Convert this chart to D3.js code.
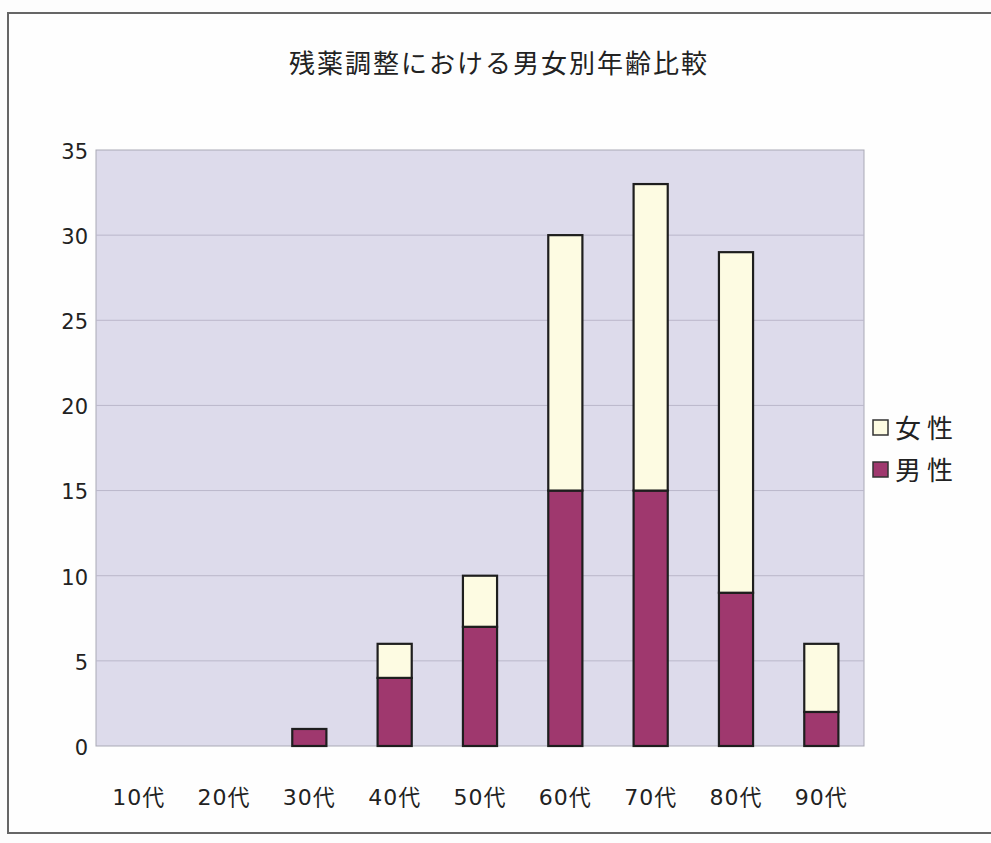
<!DOCTYPE html>
<html>
<head>
<meta charset="utf-8">
<script src="https://cdn.jsdelivr.net/npm/d3@7"></script>
<style>
  body { margin: 0; background: #fdfdfd; }
  text { font-family: "DejaVu Sans", "Noto Sans CJK JP", sans-serif; fill: #222; }
</style>
</head>
<body>
<svg id="chart" width="991" height="843"></svg>
<script>
// chart data
var categories = ["10代", "20代", "30代", "40代", "50代", "60代", "70代", "80代", "90代"];
var maleValues = [0, 0, 1, 4, 7, 15, 15, 9, 2];
var femaleValues = [0, 0, 0, 2, 3, 15, 18, 20, 4];
var yTicks = [0, 5, 10, 15, 20, 25, 30, 35];
var seriesNames = ["女性", "男性"];
var title = "残薬調整における男女別年齢比較";

(function (d3) {
    "use strict";

    var svg = d3.select("#chart"),
        plot = {left: 96, right: 864, top: 150, bottom: 746};

    // outer frame
    svg.append("rect")
        .attr("x", 8).attr("y", 13).attr("width", 1000).attr("height", 820)
        .attr("fill", "#fefefe").attr("stroke", "#666").attr("stroke-width", 2);

    svg.append("text")
        .attr("x", 289).attr("y", 73)
        .attr("textLength", 418).attr("lengthAdjust", "spacing")
        .style("font-size", "26px")
        .text(title);

    var x = d3.scaleBand().domain(categories).range([plot.left, plot.right]).paddingInner(0.6).paddingOuter(0.3);
    var y = d3.scaleLinear().domain([0, 35]).range([plot.bottom, plot.top]);

    svg.append("rect")
        .attr("x", plot.left).attr("y", plot.top)
        .attr("width", plot.right - plot.left).attr("height", plot.bottom - plot.top)
        .attr("fill", "#dddbeb").attr("stroke", "#a9a9b5");

    svg.append("g")
        .selectAll("line")
        .data(yTicks.slice(1, -1))
        .join("line")
        .attr("x1", plot.left).attr("x2", plot.right)
        .attr("y1", function (d) { return y(d); })
        .attr("y2", function (d) { return y(d); })
        .attr("stroke", "#bab7ca").attr("stroke-width", 1);

    var yAxis = svg.append("g")
        .attr("transform", "translate(" + (plot.left - 8) + ",0)")
        .call(d3.axisLeft(y).tickValues(yTicks).tickSize(0).tickPadding(0));
    yAxis.select(".domain").remove();
    yAxis.selectAll("text").style("font-size", "21px").attr("fill", "#222").attr("dy", "0.4em");

    var xAxis = svg.append("g")
        .attr("transform", "translate(0," + (plot.bottom + 43) + ")")
        .call(d3.axisBottom(x).tickSize(0).tickPadding(0));
    xAxis.select(".domain").remove();
    xAxis.selectAll("text").style("font-size", "22px").style("letter-spacing", "1px").attr("fill", "#222");

    var rows = categories.map(function (c, i) {
        return {cat: c, male: maleValues[i], female: femaleValues[i]};
    });
    var stacked = d3.stack().keys(["male", "female"])(rows);
    var colors = {male: "#9f386e", female: "#fdfbe2"};

    svg.append("g")
        .selectAll("g")
        .data(stacked)
        .join("g")
        .attr("fill", function (s) { return colors[s.key]; })
        .selectAll("rect")
        .data(function (s) { return s.filter(function (d) { return d[1] > d[0]; }); })
        .join("rect")
        .attr("x", function (d) { return x(d.data.cat); })
        .attr("width", x.bandwidth())
        .attr("y", function (d) { return y(d[1]); })
        .attr("height", function (d) { return y(d[0]) - y(d[1]); })
        .attr("stroke", "#1e1e1e").attr("stroke-width", 2.2);

    // legend
    var legend = svg.append("g").attr("transform", "translate(873,420)");
    var legendKeys = ["female", "male"];
    legendKeys.forEach(function (k, i) {
        var g = legend.append("g").attr("transform", "translate(0," + (i * 42) + ")");
        g.append("rect").attr("x", 0).attr("y", 0).attr("width", 15).attr("height", 15)
            .attr("fill", colors[k]).attr("stroke", "#333").attr("stroke-width", 1.5);
        g.append("text").attr("x", 22).attr("y", 18)
            .style("font-size", "26px").style("letter-spacing", "6px")
            .text(seriesNames[i]);
    });
}(window.d3));
</script>
</body>
</html>
